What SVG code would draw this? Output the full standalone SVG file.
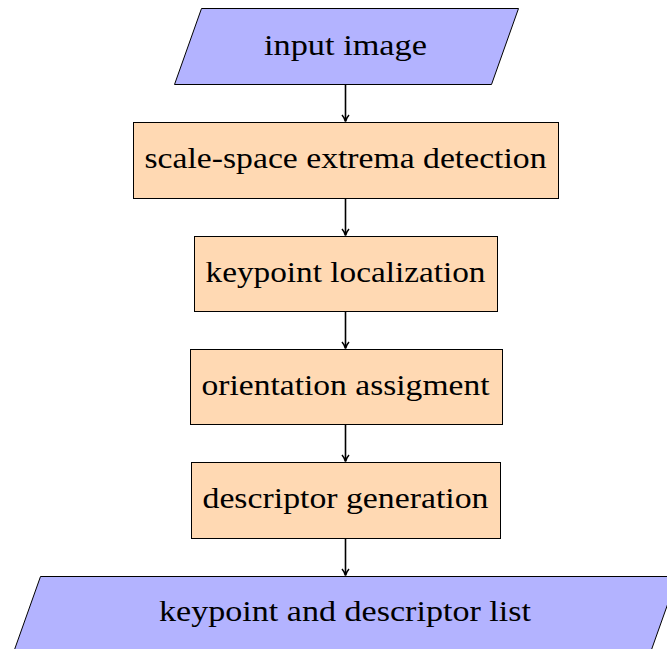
<svg xmlns="http://www.w3.org/2000/svg" width="667" height="649" viewBox="0 0 667 649">
<style>
.io{fill:#b3b3ff;stroke:#000;stroke-width:1}
.pr{fill:#ffd9b3;stroke:#000;stroke-width:1}
.t{font-family:"Liberation Serif","DejaVu Serif",serif;font-size:30px;fill:#000;text-anchor:middle}
.c{stroke:#000;stroke-width:1.6;fill:none}
</style>
<defs>
<marker id="ah" markerWidth="10" markerHeight="10" refX="7" refY="5" orient="auto" markerUnits="userSpaceOnUse">
<path d="M1,1.5 Q4,4.2 7.5,5 Q4,5.8 1,8.5" fill="none" stroke="#000" stroke-width="1.5"/>
</marker>
</defs>
<rect width="667" height="649" fill="#fff"/>
<g id="connectors">
<line class="c" x1="345.5" y1="84" x2="345.5" y2="121" marker-end="url(#ah)"/>
<line class="c" x1="345.5" y1="198" x2="345.5" y2="235" marker-end="url(#ah)"/>
<line class="c" x1="345.5" y1="311" x2="345.5" y2="348" marker-end="url(#ah)"/>
<line class="c" x1="345.5" y1="424" x2="345.5" y2="461" marker-end="url(#ah)"/>
<line class="c" x1="345.5" y1="538" x2="345.5" y2="575" marker-end="url(#ah)"/>
</g>
<g id="input">
<polygon class="io" points="201.5,8.5 518.5,8.5 491.5,84.5 174.5,84.5"/>
<text class="t" x="345.5" y="55" textLength="163" lengthAdjust="spacingAndGlyphs">input image</text>
</g>
<g id="extrema">
<rect class="pr" x="133.5" y="122.5" width="425" height="76"/>
<text class="t" x="345.5" y="168" textLength="402" lengthAdjust="spacingAndGlyphs">scale-space extrema detection</text>
</g>
<g id="localization">
<rect class="pr" x="194.5" y="236.5" width="303" height="75"/>
<text class="t" x="345.5" y="282" textLength="280" lengthAdjust="spacingAndGlyphs">keypoint localization</text>
</g>
<g id="orientation">
<rect class="pr" x="190.5" y="349.5" width="312" height="75"/>
<text class="t" x="345.5" y="395" textLength="288" lengthAdjust="spacingAndGlyphs">orientation assigment</text>
</g>
<g id="descriptor">
<rect class="pr" x="191.5" y="462.5" width="309" height="76"/>
<text class="t" x="345.5" y="508" textLength="286" lengthAdjust="spacingAndGlyphs">descriptor generation</text>
</g>
<g id="output">
<polygon class="io" points="40.5,576.5 677.5,576.5 650.5,652.5 13.5,652.5"/>
<text class="t" x="345" y="621" textLength="372" lengthAdjust="spacingAndGlyphs">keypoint and descriptor list</text>
</g>
</svg>
